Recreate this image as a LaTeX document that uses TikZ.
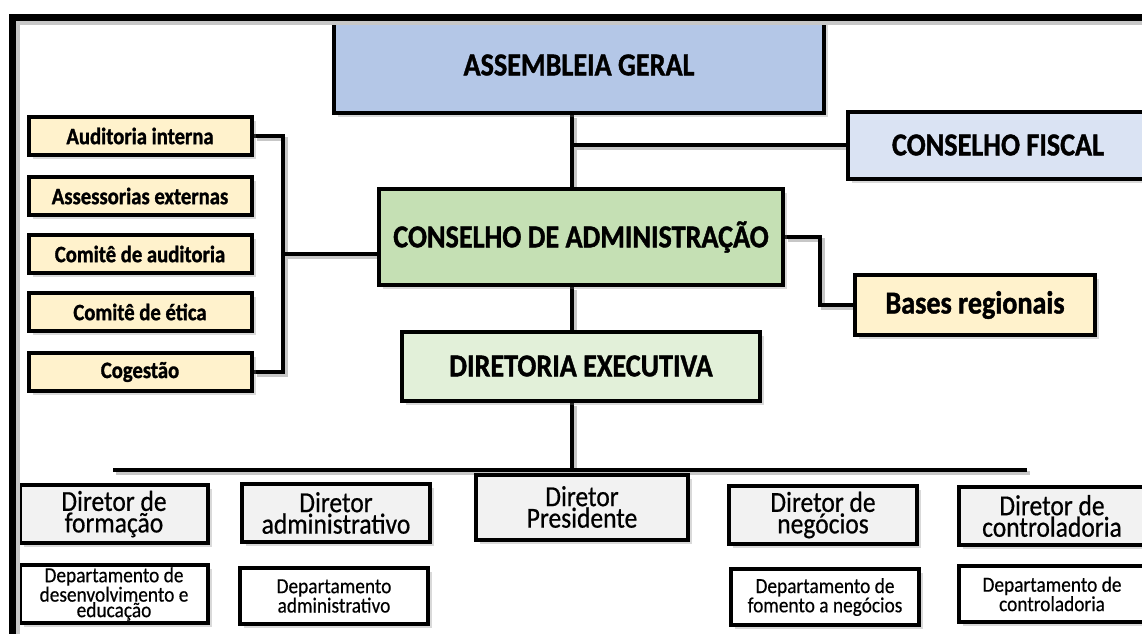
\documentclass[tikz,border=0pt]{standalone}
\usepackage{fontspec}
\setmainfont{Carlito}[FakeStretch=0.88, BoldFeatures={FakeBold=1.2}]
\newfontfamily\dirfont{Carlito}[FakeStretch=0.88, FakeBold=0.6]
\newfontfamily\depfont{Carlito}[FakeStretch=0.9, FakeBold=0.4]
\usetikzlibrary{shadows,backgrounds}

\definecolor{agblue}{HTML}{B4C7E7}
\definecolor{cfblue}{HTML}{DAE3F3}
\definecolor{cagreen}{HTML}{C5E0B4}
\definecolor{degreen}{HTML}{E2F0D9}
\definecolor{staffyellow}{HTML}{FFF2CC}
\definecolor{dirgray}{HTML}{F2F2F2}

\tikzset{
    box/.style={draw=black, line width=4pt, align=center, inner sep=2pt,
        drop shadow={opacity=0.3, shadow xshift=4pt, shadow yshift=-4pt}},
    head/.style={box, font=\bfseries\fontsize{32}{32}\selectfont},
    staff/.style={box, fill=staffyellow, minimum width=223pt, minimum height=38pt,
        font=\bfseries\fontsize{23.5}{23.5}\selectfont},
    dir/.style={box, fill=dirgray, minimum width=188pt, minimum height=58pt,
        font=\dirfont\fontsize{29}{21.5}\selectfont},
    dep/.style={box, fill=white, minimum width=188pt, minimum height=56pt,
        font=\depfont\fontsize{21.5}{15.5}\selectfont},
    conn/.style={line width=3.5pt,
        preaction={draw=black!22, line width=3.5pt, transform canvas={shift={(3pt,-3pt)}}}},
}

\begin{document}
\begin{tikzpicture}[x=1pt, y=-1pt]
        \useasboundingbox (0,0) rectangle (1142,633);
        \clip (0,0) rectangle (1142,633);

        \node[head, fill=agblue, minimum width=490pt, minimum height=96pt] (ag) at (579,65) {ASSEMBLEIA GERAL};
        \node[head, fill=cfblue, minimum width=300pt, minimum height=67pt] (cf) at (998,145) {CONSELHO FISCAL};
        \node[head, fill=cagreen, minimum width=404pt, minimum height=96pt] (ca) at (581,237) {CONSELHO DE ADMINISTRAÇÃO};
        \node[head, fill=degreen, minimum width=358pt, minimum height=69pt] (de) at (581,366) {DIRETORIA EXECUTIVA};
        \node[head, fill=staffyellow, minimum width=240pt, minimum height=60pt] (br) at (975,305) {Bases regionais};

        \node[staff] (aud) at (140,136) {Auditoria interna};
        \node[staff] (ase) at (140,196) {Assessorias externas};
        \node[staff] (cau) at (140,254) {Comitê de auditoria};
        \node[staff] (cet) at (140,312) {Comitê de ética};
        \node[staff] (cog) at (140,372) {Cogestão};

        \node[dir] (dform) at (114,514) {Diretor de\\formação};
        \node[dir] (dadm) at (336,513) {Diretor\\administrativo};
        \node[dir, minimum width=212pt, minimum height=65pt] (dpres) at (582,507) {Diretor\\Presidente};
        \node[dir] (dneg) at (823,515) {Diretor de\\negócios};
        \node[dir, minimum width=186pt] (dctrl) at (1052,516) {Diretor de\\controladoria};

        \node[dep] (depform) at (114,594) {Departamento de\\desenvolvimento e\\educação};
        \node[dep] (depadm) at (334,596) {Departamento\\administrativo};
        \node[dep] (depneg) at (825,597) {Departamento de\\fomento a negócios};
        \node[dep, minimum width=186pt] (depctrl) at (1052,594) {Departamento de\\controladoria};

        \coordinate (vx) at (572,0);
        \coordinate (bx) at (283,0);
        \coordinate (barl) at (113,470);
        \coordinate (barr) at (1027,470);

        \begin{scope}[on background layer]
            \draw[conn] (ag.south -| vx) -- (ca.north -| vx);
            \draw[conn] (cf.west -| vx) -- (cf.west);
            \draw[conn] (ca.south -| vx) -- (de.north -| vx);
            \draw[conn] (de.south -| vx) -- (barl -| vx);
            \draw[conn, line width=4pt] (barl) -- (barr);
            \draw[conn] (ca.east) -- ++(35,0) |- (br.west);
            \draw[conn] (aud.east) -- (aud.east -| bx) -- (cog.east -| bx) -- (cog.east);
            \draw[conn] (cau.east -| bx) -- (cau.east -| ca.west);
        \end{scope}

        \draw[line width=7pt, preaction={draw=black!22, line width=7pt, transform canvas={shift={(4pt,-4pt)}}}]
            (12,650) -- (12,17) -- (1160,17);
\end{tikzpicture}
\end{document}
